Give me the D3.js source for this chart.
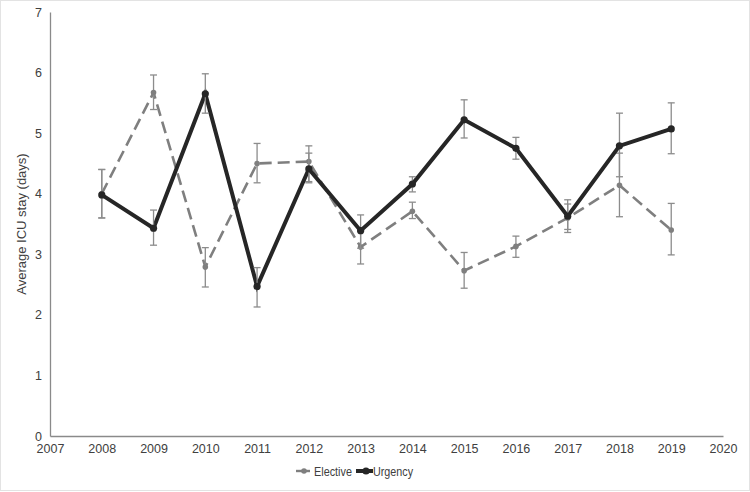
<!DOCTYPE html>
<html>
<head>
<meta charset="utf-8">
<script src="https://cdn.jsdelivr.net/npm/d3@7"></script>
<style>
  html, body { margin: 0; padding: 0; background: #fff; }
  svg { display: block; font-family: "Liberation Sans", Arial, sans-serif; }
</style>
</head>
<body>
<svg id="chart" width="750" height="492"></svg>
<script>
const years = [2008, 2009, 2010, 2011, 2012, 2013, 2014, 2015, 2016, 2017, 2018, 2019];
const xTicks = [2007, 2008, 2009, 2010, 2011, 2012, 2013, 2014, 2015, 2016, 2017, 2018, 2019, 2020];
const yTicks = [0, 1, 2, 3, 4, 5, 6, 7];

const electiveMean = [4.0, 5.67, 2.79, 4.50, 4.53, 3.12, 3.71, 2.73, 3.13, 3.60, 4.14, 3.40];
const electiveLow  = [3.60, 5.39, 2.46, 4.18, 4.20, 2.84, 3.59, 2.44, 2.95, 3.41, 3.62, 2.99];
const electiveHigh = [4.40, 5.96, 3.11, 4.83, 4.79, 3.38, 3.86, 3.03, 3.30, 3.83, 4.67, 3.84];

const urgencyMean = [3.98, 3.43, 5.65, 2.47, 4.41, 3.39, 4.16, 5.22, 4.75, 3.63, 4.79, 5.07];
const urgencyLow  = [3.60, 3.15, 5.33, 2.13, 4.18, 3.10, 4.03, 4.92, 4.57, 3.36, 4.28, 4.66];
const urgencyHigh = [4.40, 3.73, 5.98, 2.78, 4.67, 3.65, 4.28, 5.55, 4.93, 3.90, 5.33, 5.50];

const svg = d3.select("#chart");
const W = 750, H = 492;
const m = { left: 50, right: 27, top: 12, bottom: 56 };

// faint frame around image
svg.append("rect").attr("x", 0.5).attr("y", 0.5).attr("width", W - 1).attr("height", H - 2)
  .attr("fill", "none").attr("stroke", "#e3e3e3");

const x = d3.scaleLinear().domain([2007, 2020]).range([m.left, W - m.right]);
const y = d3.scaleLinear().domain([0, 7]).range([H - m.bottom, m.top]);

const axisColor = "#8a8a8a";
const textColor = "#404040";

// Y axis
const gy = svg.append("g").attr("transform", `translate(${m.left},0)`)
  .call(d3.axisLeft(y).tickValues(yTicks).tickSize(0).tickPadding(8).tickFormat(d3.format("d")));
gy.select(".domain").attr("stroke", axisColor).attr("stroke-width", 1.3);
gy.selectAll("text").attr("fill", textColor).attr("font-size", 12.5);

// X axis
const gx = svg.append("g").attr("transform", `translate(0,${H - m.bottom})`)
  .call(d3.axisBottom(x).tickValues(xTicks).tickSize(0).tickPadding(8).tickFormat(d3.format("d")));
gx.select(".domain").attr("stroke", axisColor).attr("stroke-width", 1.3);
gx.selectAll("text").attr("fill", textColor).attr("font-size", 12.5);

// Y title
svg.append("text")
  .attr("transform", `translate(26,${(y(0) + y(7)) / 2}) rotate(-90)`)
  .attr("text-anchor", "middle").attr("fill", textColor).attr("font-size", 13)
  .text("Average ICU stay (days)");

function drawSeries(mean, low, high, opts) {
  const data = years.map((yr, i) => ({ yr, v: mean[i], lo: low[i], hi: high[i] }));
  const g = svg.append("g");
  const line = d3.line().x(d => x(d.yr)).y(d => y(d.v));
  g.append("path").datum(data).attr("d", line)
    .attr("fill", "none").attr("stroke", opts.color).attr("stroke-width", opts.width)
    .attr("stroke-dasharray", opts.dash || null).attr("stroke-linejoin", "miter");
  // error bars
  const eb = g.selectAll(".eb").data(data).enter().append("g");
  eb.append("line").attr("x1", d => x(d.yr)).attr("x2", d => x(d.yr))
    .attr("y1", d => y(d.lo)).attr("y2", d => y(d.hi))
    .attr("stroke", "#8c8c8c").attr("stroke-width", 1.3);
  eb.append("line").attr("x1", d => x(d.yr) - 3.5).attr("x2", d => x(d.yr) + 3.5)
    .attr("y1", d => y(d.lo)).attr("y2", d => y(d.lo))
    .attr("stroke", "#8c8c8c").attr("stroke-width", 1.3);
  eb.append("line").attr("x1", d => x(d.yr) - 3.5).attr("x2", d => x(d.yr) + 3.5)
    .attr("y1", d => y(d.hi)).attr("y2", d => y(d.hi))
    .attr("stroke", "#8c8c8c").attr("stroke-width", 1.3);
  g.selectAll("circle").data(data).enter().append("circle")
    .attr("cx", d => x(d.yr)).attr("cy", d => y(d.v)).attr("r", opts.r)
    .attr("fill", opts.color);
}

drawSeries(electiveMean, electiveLow, electiveHigh, { color: "#7f7f7f", width: 2.6, dash: "12,6", r: 2.8 });
drawSeries(urgencyMean, urgencyLow, urgencyHigh, { color: "#262626", width: 4, r: 3.6 });

// Legend
const ly = 471;
const leg = svg.append("g");
leg.append("line").attr("x1", 296).attr("x2", 310).attr("y1", ly).attr("y2", ly)
  .attr("stroke", "#7f7f7f").attr("stroke-width", 2.4);
leg.append("circle").attr("cx", 304).attr("cy", ly).attr("r", 2.8).attr("fill", "#7f7f7f");
leg.append("text").attr("x", 314).attr("y", ly + 4.5).attr("fill", textColor).attr("font-size", 12.5)
  .attr("textLength", 38).attr("lengthAdjust", "spacingAndGlyphs").text("Elective");
leg.append("line").attr("x1", 356).attr("x2", 373).attr("y1", ly).attr("y2", ly)
  .attr("stroke", "#262626").attr("stroke-width", 4);
leg.append("circle").attr("cx", 366).attr("cy", ly).attr("r", 3.6).attr("fill", "#262626");
leg.append("text").attr("x", 373).attr("y", ly + 4.5).attr("fill", textColor).attr("font-size", 12.5)
  .attr("textLength", 40).attr("lengthAdjust", "spacingAndGlyphs").text("Urgency");
</script>
</body>
</html>
